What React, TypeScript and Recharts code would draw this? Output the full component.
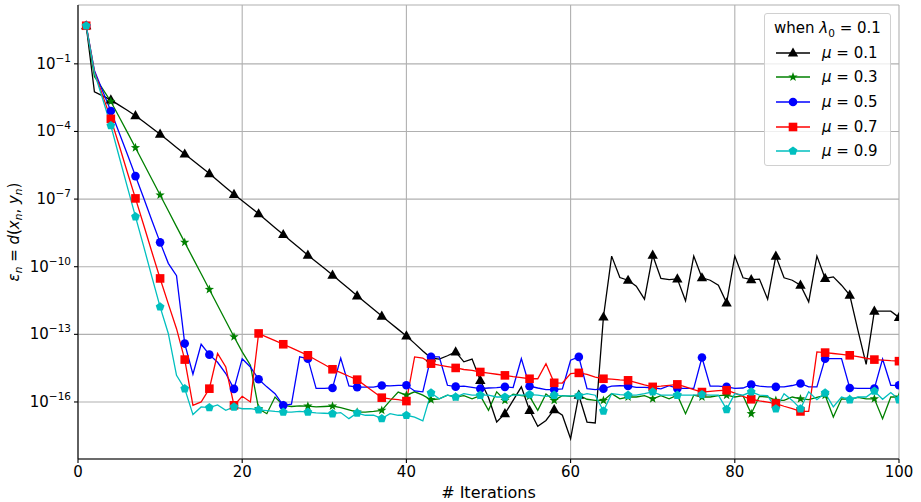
import React from "react";
import { LineChart, Line, XAxis, YAxis, CartesianGrid } from "recharts";

const FONT = "DejaVu Sans, sans-serif";

const iterations = [
  1, 2, 3, 4, 5, 6, 7, 8, 9, 10, 11, 12, 13, 14, 15, 16, 17, 18, 19, 20,
  21, 22, 23, 24, 25, 26, 27, 28, 29, 30, 31, 32, 33, 34, 35, 36, 37, 38, 39, 40,
  41, 42, 43, 44, 45, 46, 47, 48, 49, 50, 51, 52, 53, 54, 55, 56, 57, 58, 59, 60,
  61, 62, 63, 64, 65, 66, 67, 68, 69, 70, 71, 72, 73, 74, 75, 76, 77, 78, 79, 80,
  81, 82, 83, 84, 85, 86, 87, 88, 89, 90, 91, 92, 93, 94, 95, 96, 97, 98, 99, 100,
];

// values, as log10 of the error
const mu01 = [
  0.69, -2.24, -2.42, -2.6, -2.83, -3.06, -3.3, -3.57, -3.85, -4.12,
  -4.41, -4.71, -5.0, -5.29, -5.58, -5.87, -6.18, -6.49, -6.79, -7.07,
  -7.36, -7.65, -7.96, -8.27, -8.57, -8.88, -9.18, -9.49, -9.78, -10.07,
  -10.37, -10.68, -10.98, -11.29, -11.59, -11.89, -12.19, -12.49, -12.78, -13.07,
  -13.4, -13.74, -14.05, -14.1, -13.95, -13.78, -14.22, -14.1, -15.04, -15.8,
  -16.89, -16.52, -15.93, -15.33, -16.37, -17.08, -16.82, -16.34, -16.59, -17.63,
  -15.7, -16.89, -16.93, -12.23, -9.53, -10.48, -10.6, -10.86, -11.44, -9.49,
  -10.52, -10.57, -10.54, -11.51, -9.53, -10.49, -10.6, -10.82, -11.6, -9.53,
  -10.49, -10.57, -10.55, -11.44, -9.53, -10.49, -10.6, -10.82, -11.56, -9.53,
  -10.52, -10.45, -10.82, -11.26, -12.82, -14.33, -11.97, -11.97, -11.97, -12.25,
];

const mu03 = [
  0.69, -1.56, -2.11, -2.67, -3.35, -4.03, -4.72, -5.42, -6.12, -6.82,
  -7.52, -8.22, -8.92, -9.62, -10.31, -11.01, -11.71, -12.41, -13.11, -13.78,
  -14.37, -16.3, -16.52, -15.78, -16.15, -16.2, -16.17, -16.18, -16.22, -16.2,
  -16.18, -16.25, -16.35, -16.45, -16.45, -16.42, -16.37, -15.95, -15.56, -15.7,
  -15.55, -15.7, -15.9, -15.86, -15.7, -15.78, -15.72, -15.86, -15.72, -16.37,
  -15.55, -15.93, -15.65, -15.72, -15.75, -16.37, -15.65, -15.93, -15.72, -15.75,
  -15.7, -15.88, -15.93, -15.93, -15.63, -15.86, -15.78, -15.78, -15.72, -15.86,
  -15.72, -15.86, -15.7, -16.52, -15.7, -15.78, -15.78, -15.72, -15.7, -15.78,
  -15.72, -16.52, -15.75, -15.78, -15.93, -15.93, -15.78, -15.86, -15.9, -15.8,
  -15.7, -16.67, -15.86, -15.88, -15.8, -15.86, -15.86, -16.74, -15.78, -15.78,
];

const mu05 = [
  0.69, -1.3, -2.2, -3.09, -4.05, -5.0, -5.98, -6.95, -7.95, -8.92,
  -9.85, -10.4, -13.41, -14.77, -13.44, -13.9, -14.24, -14.74, -15.42, -14.08,
  -14.45, -14.99, -15.33, -15.63, -16.15, -16.1, -14.0, -14.08, -15.4, -15.4,
  -15.38, -14.05, -15.29, -15.34, -15.34, -15.34, -15.27, -15.29, -15.26, -15.26,
  -15.51, -15.55, -14.0, -14.0, -15.26, -15.32, -15.3, -15.35, -15.41, -15.38,
  -15.36, -15.33, -15.36, -14.08, -15.3, -15.38, -15.45, -15.45, -15.42, -14.15,
  -14.0, -15.41, -15.45, -15.41, -15.3, -15.28, -15.29, -15.35, -15.35, -15.37,
  -15.42, -15.28, -15.4, -15.4, -15.4, -14.03, -15.3, -15.3, -15.33, -15.4,
  -15.38, -15.23, -15.3, -15.33, -15.33, -15.33, -15.27, -15.18, -15.33, -15.33,
  -14.08, -14.08, -14.08, -15.38, -15.4, -15.4, -15.4, -14.1, -15.26, -15.26,
];

const mu07 = [
  0.69, -1.35, -2.4, -3.44, -4.6, -5.8, -6.97, -8.15, -9.35, -10.52,
  -11.65, -12.75, -14.12, -16.15, -16.0, -15.41, -13.85, -14.45, -16.15, -15.75,
  -16.0, -12.96, -13.12, -13.28, -13.44, -13.6, -13.77, -13.93, -14.14, -14.34,
  -14.55, -14.7, -14.86, -15.01, -15.28, -15.55, -15.81, -15.86, -15.9, -15.96,
  -14.0, -14.05, -14.3, -14.37, -14.43, -14.49, -14.56, -14.6, -14.67, -14.72,
  -14.77, -14.82, -14.88, -14.92, -14.97, -14.97, -14.3, -15.15, -15.16, -14.74,
  -14.71, -14.78, -14.9, -14.97, -14.99, -15.02, -15.04, -15.14, -15.24, -15.33,
  -15.3, -15.26, -15.22, -15.33, -15.45, -15.56, -15.53, -15.5, -15.48, -15.61,
  -15.75, -15.88, -15.95, -16.01, -16.07, -16.19, -16.3, -16.42, -16.42, -13.78,
  -13.81, -13.85, -13.89, -13.93, -13.99, -14.06, -14.12, -14.14, -14.17, -14.19,
];

const mu09 = [
  0.69, -1.4, -2.55, -3.74, -5.1, -6.45, -7.78, -9.1, -10.45, -11.78,
  -12.96, -14.82, -15.41, -16.56, -16.22, -16.25, -16.13, -16.37, -16.22, -16.3,
  -16.3, -16.35, -16.38, -16.42, -16.45, -16.45, -16.42, -16.45, -16.48, -16.5,
  -16.52, -16.47, -16.74, -16.49, -16.59, -16.59, -16.74, -16.52, -16.59, -16.59,
  -16.67, -16.84, -15.6, -15.86, -15.7, -15.78, -15.63, -15.7, -15.7, -15.7,
  -15.78, -15.78, -15.7, -15.7, -15.67, -15.7, -15.75, -15.7, -15.73, -15.73,
  -15.73, -15.63, -15.7, -16.4, -15.63, -15.67, -15.7, -15.7, -15.63, -15.55,
  -15.7, -15.7, -15.7, -15.7, -15.7, -15.67, -15.7, -15.7, -16.33, -15.63,
  -15.7, -15.55, -15.7, -15.72, -16.3, -15.63, -15.93, -16.3, -15.55, -15.9,
  -15.6, -16.22, -15.78, -15.9, -15.78, -15.78, -15.52, -15.88, -15.58, -15.9,
];

const xTicks = [0, 20, 40, 60, 80, 100];
const yTicks = [1e-16, 1e-13, 1e-10, 1e-7, 1e-4, 1e-1];
const Y_MIN = 10 ** -18.53;
const Y_MAX = 10 ** 1.61;

const seriesList = [
  { key: "mu01", label: "0.1", color: "#000000", shape: "triangle", values: mu01 },
  { key: "mu03", label: "0.3", color: "#008000", shape: "star", values: mu03 },
  { key: "mu05", label: "0.5", color: "#0000ff", shape: "circle", values: mu05 },
  { key: "mu07", label: "0.7", color: "#ff0000", shape: "square", values: mu07 },
  { key: "mu09", label: "0.9", color: "#00bfbf", shape: "pentagon", values: mu09 },
];

const data = iterations.map((n, i) => {
  const row: Record<string, number> = { n };
  seriesList.forEach((s) => {
    row[s.key] = 10 ** s.values[i];
  });
  return row;
});

function polyPoints(cx: number, cy: number, count: number, rOuter: number, rInner?: number) {
  const pts: string[] = [];
  const total = rInner ? count * 2 : count;
  for (let k = 0; k < total; k++) {
    const a = -Math.PI / 2 + (k * 2 * Math.PI) / total;
    const r = rInner && k % 2 === 1 ? rInner : rOuter;
    pts.push(`${cx + r * Math.cos(a)},${cy + r * Math.sin(a)}`);
  }
  return pts.join(" ");
}

function Marker({ shape, cx, cy, color }: { shape: string; cx: number; cy: number; color: string }) {
  switch (shape) {
    case "triangle":
      return <polygon points={`${cx},${cy - 5.6} ${cx - 5.2},${cy + 3.6} ${cx + 5.2},${cy + 3.6}`} fill={color} />;
    case "star":
      return <polygon points={polyPoints(cx, cy, 5, 4.9, 2.0)} fill={color} />;
    case "circle":
      return <circle cx={cx} cy={cy} r={4.3} fill={color} />;
    case "square":
      return <rect x={cx - 4.3} y={cy - 4.3} width={8.6} height={8.6} fill={color} />;
    default:
      return <polygon points={polyPoints(cx, cy, 5, 4.6)} fill={color} />;
  }
}

// matplotlib markevery=3: markers on iterations 1, 4, 7, ...
const makeDot = (shape: string, color: string) => (props: any) => {
  const { cx, cy, index } = props;
  if (index % 3 !== 0 || cx == null || cy == null) return <g key={`d-${shape}-${index}`} />;
  return (
    <g key={`d-${shape}-${index}`}>
      <Marker shape={shape} cx={cx} cy={cy} color={color} />
    </g>
  );
};

function LogTick(props: any) {
  const { x, y, payload } = props;
  const exp = Math.round(Math.log10(payload.value));
  return (
    <text x={x} y={y} dy={5} textAnchor="end" fontFamily={FONT} fontSize={15} fill="#000">
      10
      <tspan dy={-7} fontSize={10.5}>{"\u2212" + Math.abs(exp)}</tspan>
    </text>
  );
}

function LegendBox() {
  const rows = [38.7, 63.3, 87.9, 112.5, 137.1];
  return (
    <div
      style={{
        position: "absolute",
        left: 764,
        top: 13,
        width: 125,
        height: 151,
        border: "1px solid #d0d0d0",
        borderRadius: 3,
        background: "rgba(255,255,255,0.8)",
        fontFamily: FONT,
        fontSize: 15,
        color: "#000",
      }}
    >
      <div style={{ position: "absolute", left: 0, width: 125, top: 5, textAlign: "center", whiteSpace: "nowrap" }}>
        when <i>λ</i>
        <sub style={{ fontSize: 10.5 }}>0</sub> = 0.1
      </div>
      {seriesList.map((s, i) => (
        <div key={s.key} style={{ position: "absolute", left: 0, top: rows[i] - 10, height: 20, width: 125 }}>
          <svg width={50} height={20} style={{ position: "absolute", left: 0, top: 0 }}>
            <line x1={11} x2={45} y1={10} y2={10} stroke={s.color} strokeWidth={1.3} />
            <Marker shape={s.shape} cx={28} cy={10} color={s.color} />
          </svg>
          <span style={{ position: "absolute", left: 57, top: 0, lineHeight: "20px", whiteSpace: "nowrap" }}>
            <i>μ</i> = {s.label}
          </span>
        </div>
      ))}
    </div>
  );
}

export default function App() {
  return (
    <div style={{ position: "absolute", left: 0, top: 0, width: 921, height: 502, background: "#fff" }}>
      <LineChart width={921} height={502} data={data} margin={{ top: 5, right: 22, bottom: 0, left: 8 }}>
        <CartesianGrid stroke="#b0b0b0" strokeWidth={1.1} />
        <XAxis
          dataKey="n"
          type="number"
          domain={[0, 100]}
          ticks={xTicks}
          allowDataOverflow
          height={43}
          tickSize={4}
          tickMargin={3}
          axisLine={{ stroke: "#000", strokeWidth: 1.1 }}
          tickLine={{ stroke: "#000", strokeWidth: 1.1 }}
          tick={{ fill: "#000", fontSize: 15, fontFamily: FONT }}
          label={{ value: "# Iterations", position: "insideBottom", offset: 4, fill: "#000", fontSize: 16, fontFamily: FONT }}
        />
        <XAxis
          xAxisId="top"
          orientation="top"
          type="number"
          domain={[0, 100]}
          height={0}
          tick={false}
          tickLine={false}
          axisLine={{ stroke: "#000", strokeWidth: 1.1 }}
        />
        <YAxis
          scale="log"
          type="number"
          domain={[Y_MIN, Y_MAX]}
          ticks={yTicks}
          allowDataOverflow
          width={70}
          tickSize={4}
          tickMargin={3}
          axisLine={{ stroke: "#000", strokeWidth: 1.1 }}
          tickLine={{ stroke: "#000", strokeWidth: 1.1 }}
          tick={<LogTick />}
        />
        <YAxis
          yAxisId="right"
          orientation="right"
          type="number"
          domain={[0, 1]}
          width={0}
          tick={false}
          tickLine={false}
          axisLine={{ stroke: "#000", strokeWidth: 1.1 }}
        />
        {seriesList.map((s) => (
          <Line
            key={s.key}
            dataKey={s.key}
            stroke={s.color}
            strokeWidth={1.3}
            dot={makeDot(s.shape, s.color)}
            activeDot={false}
            isAnimationActive={false}
          />
        ))}
      </LineChart>
      <svg width={921} height={502} style={{ position: "absolute", left: 0, top: 0, pointerEvents: "none" }}>
        <text
          x={19}
          y={232}
          transform="rotate(-90 19 232)"
          textAnchor="middle"
          fontFamily={FONT}
          fontSize={15}
          fill="#000"
        >
          <tspan fontStyle="italic">ε</tspan>
          <tspan fontStyle="italic" fontSize={10.5} dy={3}>n</tspan>
          <tspan dy={-3}> = </tspan>
          <tspan fontStyle="italic">d</tspan>
          <tspan>(</tspan>
          <tspan fontStyle="italic">x</tspan>
          <tspan fontStyle="italic" fontSize={10.5} dy={3}>n</tspan>
          <tspan dy={-3}>, </tspan>
          <tspan fontStyle="italic">y</tspan>
          <tspan fontStyle="italic" fontSize={10.5} dy={3}>n</tspan>
          <tspan dy={-3}>)</tspan>
        </text>
      </svg>
      <LegendBox />
    </div>
  );
}
